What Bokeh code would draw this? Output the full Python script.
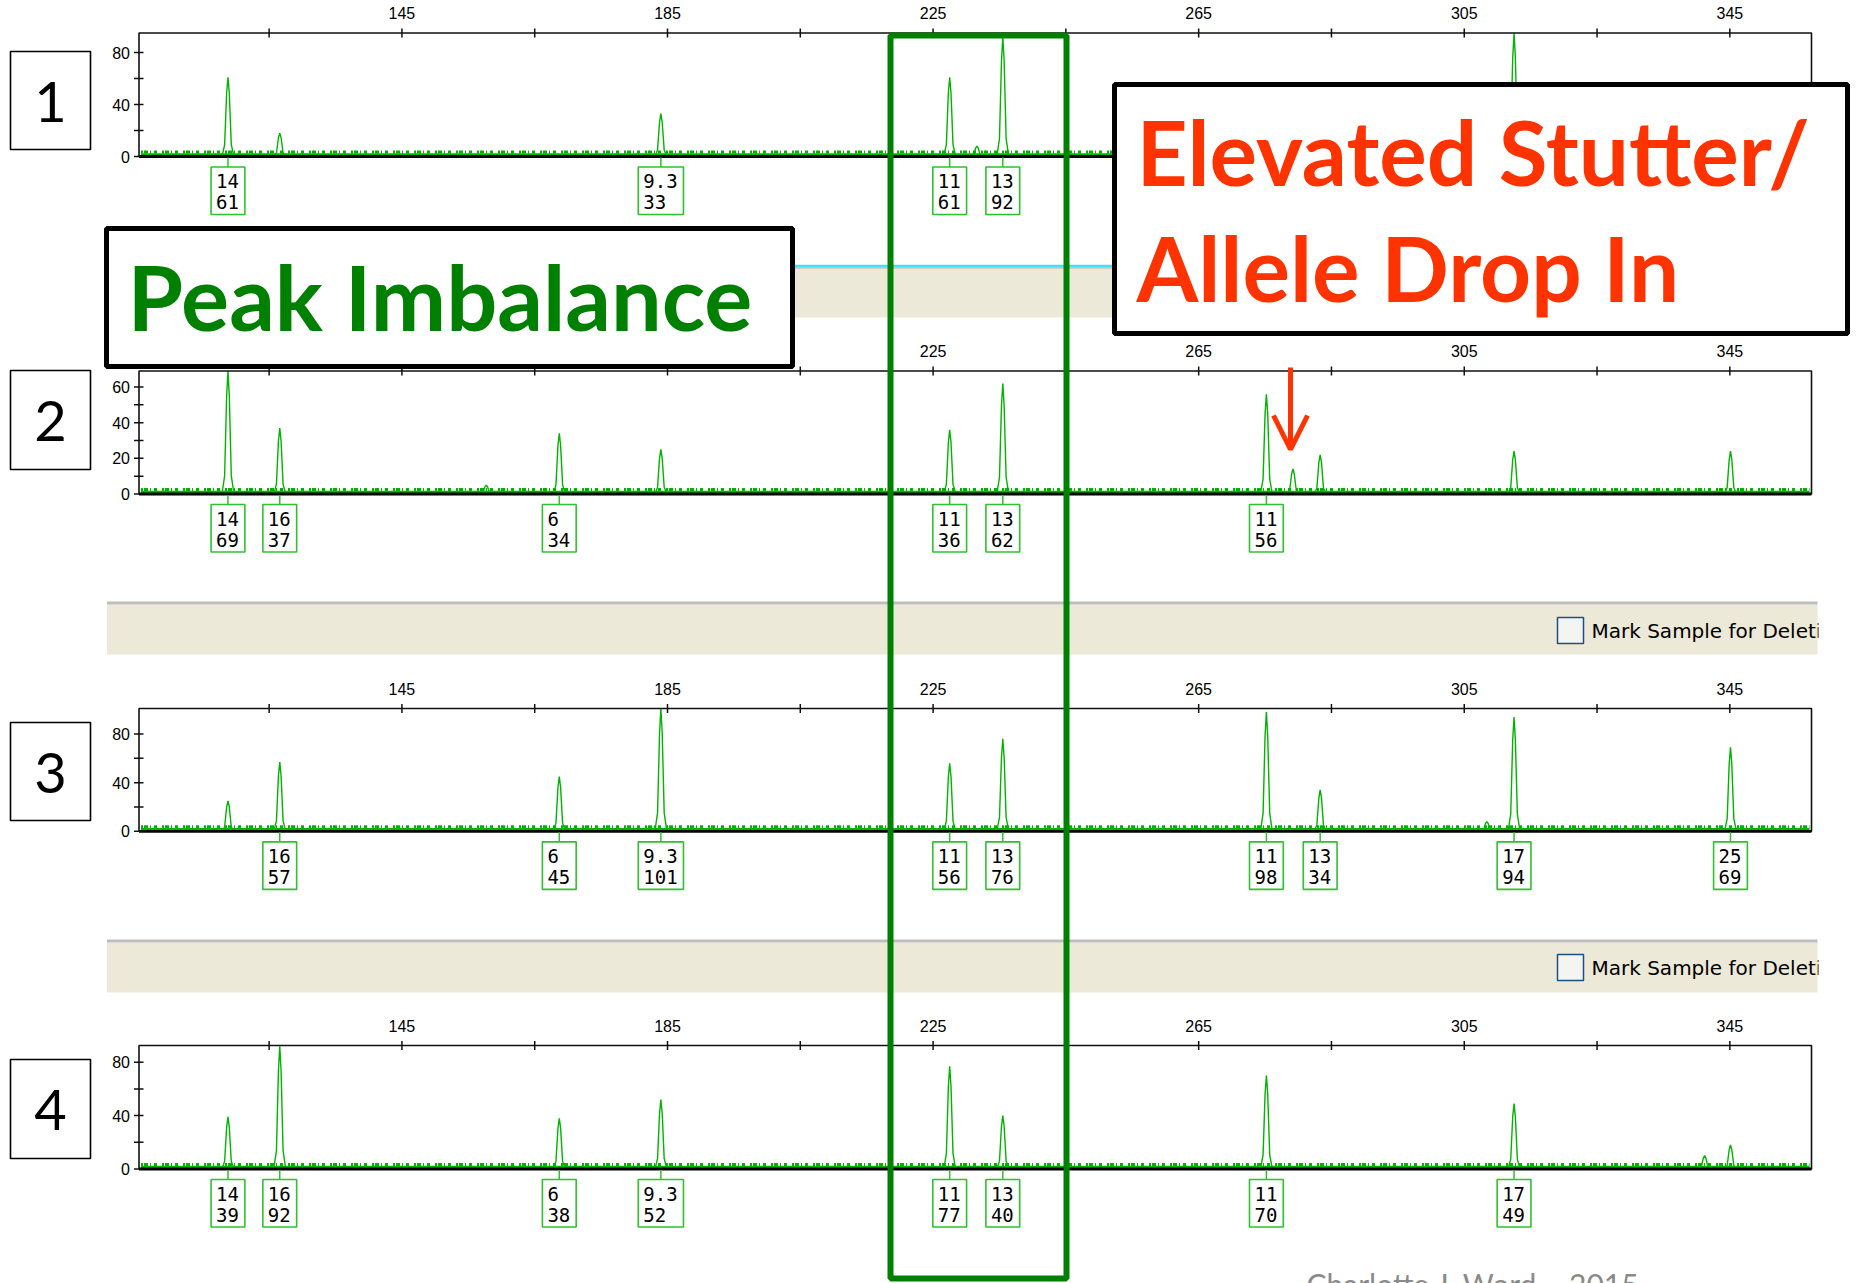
from bokeh.plotting import figure
from bokeh.models import Range1d, Arrow, OpenHead, ColumnDataSource
from bokeh.core.properties import value
from bokeh.embed import file_html
from bokeh.resources import INLINE

# ---------------- data ----------------
SIZE_TICKS = [145, 185, 225, 265, 305, 345]
SIZE_MINOR = [125, 165, 205, 245, 285, 325]

P1_PEAK_BP = [118.8, 126.6, 184.0, 227.5, 231.6, 235.5, 312.5]
P1_PEAK_RFU = [61, 18, 33, 61, 8, 92, 95]
P1_LABEL_BP = [118.8, 184.0, 227.5, 235.5]
P1_ALLELE = ["14", "9.3", "11", "13"]
P1_HEIGHT = ["61", "33", "61", "92"]
P1_YTICKS = [0, 40, 80]
P1_YMINOR = [20, 60]

P2_PEAK_BP = [118.8, 126.6, 157.7, 168.7, 184.0, 227.5, 235.5, 275.2, 279.2, 283.3, 312.5, 345.1]
P2_PEAK_RFU = [69, 37, 5, 34, 25, 36, 62, 56, 14, 22, 24, 24]
P2_LABEL_BP = [118.8, 126.6, 168.7, 227.5, 235.5, 275.2]
P2_ALLELE = ["14", "16", "6", "11", "13", "11"]
P2_HEIGHT = ["69", "37", "34", "36", "62", "56"]
P2_YTICKS = [0, 20, 40, 60]
P2_YMINOR = [10, 30, 50]

P3_PEAK_BP = [118.8, 126.6, 168.7, 184.0, 227.5, 235.5, 275.2, 283.3, 308.4, 312.5, 345.1]
P3_PEAK_RFU = [25, 57, 45, 101, 56, 76, 98, 34, 8, 94, 69]
P3_LABEL_BP = [126.6, 168.7, 184.0, 227.5, 235.5, 275.2, 283.3, 312.5, 345.1]
P3_ALLELE = ["16", "6", "9.3", "11", "13", "11", "13", "17", "25"]
P3_HEIGHT = ["57", "45", "101", "56", "76", "98", "34", "94", "69"]
P3_YTICKS = [0, 40, 80]
P3_YMINOR = [20, 60]

P4_PEAK_BP = [118.8, 126.6, 168.7, 184.0, 227.5, 235.5, 275.2, 312.5, 341.2, 345.1]
P4_PEAK_RFU = [39, 92, 38, 52, 77, 40, 70, 49, 10, 18]
P4_LABEL_BP = [118.8, 126.6, 168.7, 184.0, 227.5, 235.5, 275.2, 312.5]
P4_ALLELE = ["14", "16", "6", "9.3", "11", "13", "11", "17"]
P4_HEIGHT = ["39", "92", "38", "52", "77", "40", "70", "49"]
P4_YTICKS = [0, 40, 80]
P4_YMINOR = [20, 60]

PANELS = [
    (P1_PEAK_BP, P1_PEAK_RFU, P1_LABEL_BP, P1_ALLELE, P1_HEIGHT, P1_YTICKS, P1_YMINOR),
    (P2_PEAK_BP, P2_PEAK_RFU, P2_LABEL_BP, P2_ALLELE, P2_HEIGHT, P2_YTICKS, P2_YMINOR),
    (P3_PEAK_BP, P3_PEAK_RFU, P3_LABEL_BP, P3_ALLELE, P3_HEIGHT, P3_YTICKS, P3_YMINOR),
    (P4_PEAK_BP, P4_PEAK_RFU, P4_LABEL_BP, P4_ALLELE, P4_HEIGHT, P4_YTICKS, P4_YMINOR),
]
SAMPLE_NUMBERS = ["1", "2", "3", "4"]

# ---------------- layout (page pixels) ----------------
PX0, PX1 = 0, 1856
PY0, PY1 = 0, 1283
PANEL_PX_L, PANEL_PX_R = 138.5, 1811.0
BP_L, BP_R = 105.4, 357.3
PANEL_TOP = [32.5, 370.5, 708.0, 1045.0]
PANEL_BASE = [156.0, 493.5, 830.8, 1168.5]
PANEL_YMAX = [95, 69, 101, 92.5]
NUM_BOX = [(51, 149), (370, 469), (722, 820), (1059, 1158)]

TRACE = "#00B400"
LABEL_GREEN = "#2EC22E"
DARK_GREEN = "#007F00"
RED = "#FF3300"
BEIGE = "#ECE9D8"

# peak drawing shape (offset in bp, fraction of height)
SHAPE_DX = [-0.9, -0.5, -0.2, 0.0, 0.2, 0.5, 0.9]
SHAPE_FR = [0.0, 0.15, 0.8, 1.0, 0.8, 0.15, 0.0]

bscale = (PANEL_PX_R - PANEL_PX_L) / (BP_R - BP_L)

p = figure(width=PX1 - PX0, height=PY1 - PY0,
           x_range=Range1d(PX0, PX1), y_range=Range1d(PY1, PY0),
           x_axis_location=None, y_axis_location=None,
           output_backend="svg", toolbar_location=None, min_border=0)
p.grid.visible = False
p.outline_line_color = None
p.background_fill_color = "white"

p.extra_x_ranges = {"bp": Range1d(BP_L - (PANEL_PX_L - PX0) / bscale,
                                  BP_R + (PX1 - PANEL_PX_R) / bscale)}
yr = {}
for i in range(4):
    top, base, ym = PANEL_TOP[i], PANEL_BASE[i], PANEL_YMAX[i]
    u = ym / (base - top)
    yr[f"p{i}"] = Range1d(-(PY1 - base) * u, ym + (top - PY0) * u)
p.extra_y_ranges = yr


def txt(x, y, s, size, color="black", font="Liberation Sans", style="normal",
        align="left", baseline="middle", xr="default", yrn="default"):
    p.text(x=x, y=y, text=s, text_font=value(font), text_font_size=value(f"{size}px"),
           text_font_style=style, text_color=color, text_align=align,
           text_baseline=baseline, x_range_name=xr, y_range_name=yrn)


# ---------------- separator bands ----------------
BAND_L, BAND_R = 106.5, 1817
# band between 1 and 2 (selected: cyan top)
p.quad(left=[BAND_L], right=[BAND_R], top=[266], bottom=[317], fill_color=BEIGE, line_color=None)
p.line(x=[BAND_L, BAND_R], y=[267.5, 267.5], line_color="#C9C5B5", line_width=1.5)
p.line(x=[BAND_L, BAND_R], y=[265.5, 265.5], line_color="#40E0FF", line_width=2.5)
for (gt, bb, ty) in [(601, 654, 630), (939, 992, 967)]:
    p.quad(left=[BAND_L], right=[BAND_R], top=[gt + 3], bottom=[bb], fill_color=BEIGE, line_color=None)
    p.line(x=[BAND_L, BAND_R], y=[gt + 1.5, gt + 1.5], line_color="#BDBDBD", line_width=3)
    p.quad(left=[1557], right=[1583], top=[ty - 13], bottom=[ty + 13],
           fill_color="#F4F4F0", line_color="#1C5180", line_width=1.5)
    txt([1591], [ty], ["Mark Sample for Deletion"], 20, font="DejaVu Sans")
    p.quad(left=[1818], right=[1856], top=[gt - 1], bottom=[bb + 1], fill_color="white", line_color=None)

# ---------------- panels ----------------
for i, (pbp, prfu, lbp, lal, lht, yt, ymn) in enumerate(PANELS):
    top, base, ym = PANEL_TOP[i], PANEL_BASE[i], PANEL_YMAX[i]
    yn = f"p{i}"
    # baseline noise band
    p.line(x=[BP_L + 0.3, BP_R - 0.3], y=[base - 2.2, base - 2.2], line_color=TRACE,
           line_width=2.2, x_range_name="bp")
    p.line(x=[BP_L + 0.3, BP_R - 0.3], y=[base - 4.5, base - 4.5], line_color=TRACE,
           line_width=3, line_dash="2 1 4 2 1 3 3 5", x_range_name="bp")
    # electropherogram trace
    xs, ys = [BP_L + 0.3], [0]
    for b, h in sorted(zip(pbp, prfu)):
        for dx, fr in zip(SHAPE_DX, SHAPE_FR):
            xs.append(b + dx)
            ys.append(fr * h)
    xs.append(BP_R - 0.3)
    ys.append(0)
    p.line(x=xs, y=ys, line_color=TRACE, line_width=1.4, x_range_name="bp", y_range_name=yn)

    # frame
    p.quad(left=[BP_L], right=[BP_R], bottom=[0], top=[ym], fill_color=None,
           line_color="#111111", line_width=1.6, x_range_name="bp", y_range_name=yn)
    p.line(x=[BP_L, BP_R], y=[base, base], line_color="black", line_width=2.8, x_range_name="bp")
    # top axis ticks and labels
    allx = SIZE_TICKS + SIZE_MINOR
    p.segment(x0=allx, x1=allx, y0=[top - 4.5] * len(allx), y1=[top + 4.5] * len(allx),
              line_color="#111111", line_width=1.5, x_range_name="bp")
    txt(SIZE_TICKS, [top - 20] * len(SIZE_TICKS), [str(t) for t in SIZE_TICKS], 16,
        align="center", xr="bp")
    # left axis ticks and labels
    ally = yt + ymn
    p.segment(x0=[PANEL_PX_L - 5] * len(ally), x1=[PANEL_PX_L + 4.5] * len(ally), y0=ally, y1=ally,
              line_color="#111111", line_width=1.5, y_range_name=yn)
    txt([PANEL_PX_L - 9] * len(yt), yt, [str(v) for v in yt], 16, align="right", yrn=yn)

    # allele label boxes
    widths = [11 + 11.4 * max(len(a), len(h)) for a, h in zip(lal, lht)]
    n = len(lbp)
    p.segment(x0=lbp, x1=lbp, y0=[base + 1] * n, y1=[base + 10.5] * n,
              line_color=LABEL_GREEN, line_width=1.5, x_range_name="bp")
    p.rect(x=lbp, y=[base + 34.3] * n, width=widths, height=47.5, width_units="screen",
           fill_color="white", line_color=LABEL_GREEN, line_width=1.6, x_range_name="bp")
    src = ColumnDataSource(dict(x=lbp + lbp, y=[base + 24.5] * n + [base + 45.5] * n,
                                t=lal + lht, xo=[-w / 2 + 5 for w in widths] * 2))
    p.text(x="x", y="y", text="t", x_offset="xo", source=src, text_font=value("DejaVu Sans Mono"),
           text_font_size=value("19px"), text_color="black", text_align="left",
           text_baseline="middle", x_range_name="bp")

# ---------------- sample number boxes ----------------
for s, (bt, bb) in zip(SAMPLE_NUMBERS, NUM_BOX):
    p.quad(left=[10], right=[90], top=[bt], bottom=[bb], fill_color="white",
           line_color="black", line_width=1.6)
    txt([50], [(bt + bb) / 2 + 1], [s], 56, font="Lato", align="center")

# ---------------- callout boxes ----------------
p.quad(left=[106], right=[792], top=[228], bottom=[366], fill_color="white",
       line_color="black", line_width=5)
txt([127], [295], ["Peak Imbalance"], 90, color="#008000", font="Lato", style="bold")

p.quad(left=[1114], right=[1847], top=[84], bottom=[333], fill_color="white",
       line_color="black", line_width=5)
txt([1136], [151], ["Elevated Stutter/"], 89, color=RED, font="Lato", style="bold")
txt([1136], [267], ["Allele Drop In"], 89, color=RED, font="Lato", style="bold")

p.add_layout(Arrow(end=OpenHead(size=34, line_color=RED, line_width=5),
                   x_start=1290, y_start=367, x_end=1290, y_end=449,
                   line_color=RED, line_width=5))

# big green highlight rectangle
p.quad(left=[890], right=[1066], top=[35], bottom=[1278], fill_color=None,
       line_color=DARK_GREEN, line_width=6)

txt([1306], [1265], ["Charlotte J. Word \u2013 2015"], 30, color="#8A8A8A", font="Lato",
    baseline="top")

open("out.html", "w").write(file_html(p, INLINE))
